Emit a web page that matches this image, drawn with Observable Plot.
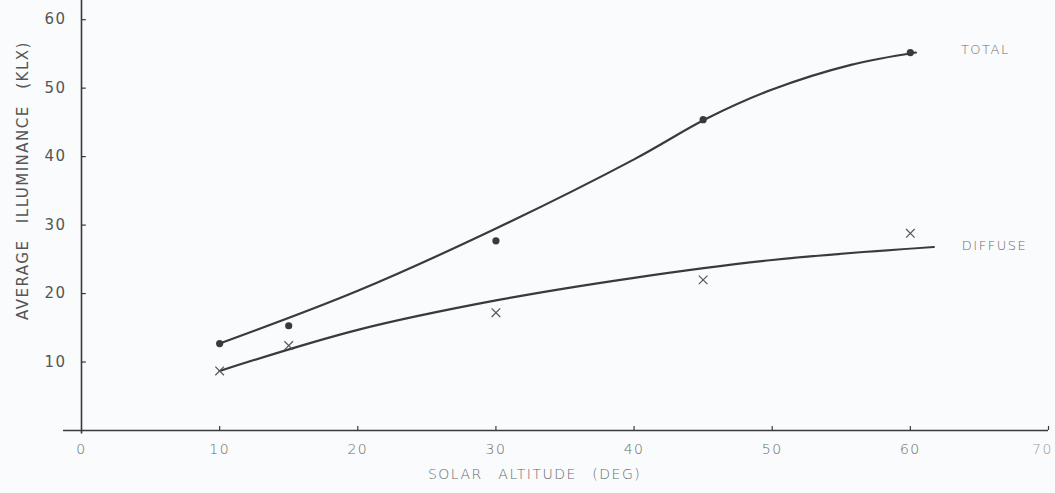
<!DOCTYPE html>
<html>
<head>
<meta charset="utf-8">
<script src="https://cdn.jsdelivr.net/npm/d3@7"></script>
<script src="https://cdn.jsdelivr.net/npm/@observablehq/plot@0.6"></script>
<style>
  html, body { margin: 0; padding: 0; background: #f9fbfc; }
  #chart svg { display: block; font-family: "DejaVu Sans", sans-serif; }
</style>
</head>
<body>
<div id="chart"></div>
<script>
// Measured points
const altitudes = [10, 15, 30, 45, 60];
const totalValues = [12.7, 15.3, 27.7, 45.4, 55.2];
const diffuseValues = [8.7, 12.4, 17.2, 22.0, 28.8];

// Hand-drawn fitted curves
const totalCurveX = [10, 20, 30, 40, 45.3, 50, 55.7, 60.4];
const totalCurveY = [12.7, 20.4, 29.5, 39.6, 45.6, 49.8, 53.4, 55.2];
const diffuseCurveX = [10, 20, 30, 40, 50, 61.7];
const diffuseCurveY = [8.7, 14.7, 19.0, 22.3, 24.9, 26.8];

const xTicks = [0, 10, 20, 30, 40, 50, 60, 70];
const yTicks = [10, 20, 30, 40, 50, 60];
const seriesLabels = ["TOTAL", "DIFFUSE"];

const ink = "#3a3a3a";
const textInk = "#6a6a6a";

const totalPts = altitudes.map((x, i) => ({x, y: totalValues[i]}));
const diffusePts = altitudes.map((x, i) => ({x, y: diffuseValues[i]}));
const totalCurve = totalCurveX.map((x, i) => ({x, y: totalCurveY[i]}));
const diffuseCurve = diffuseCurveX.map((x, i) => ({x, y: diffuseCurveY[i]}));
const totalEnd = totalCurve[totalCurve.length - 1];
const diffuseEnd = diffuseCurve[diffuseCurve.length - 1];

const chart = Plot.plot({
  width: 1055,
  height: 493,
  marginLeft: 81,
  marginRight: 7,
  marginTop: 0,
  marginBottom: 63,
  style: {background: "#f9fbfc", color: textInk, fontSize: "14px"},
  x: {domain: [0, 70], axis: null},
  y: {domain: [0, 62.8], axis: null},
  marks: [
    // axis lines
    Plot.ruleY([0], {x1: -1.3, x2: 70, stroke: ink, strokeWidth: 1.6}),
    Plot.ruleX([0], {y1: -0.5, y2: 62.8, stroke: ink, strokeWidth: 1.6}),
    // inward tick marks
    Plot.ruleX(xTicks.slice(1), {x: d => d, y1: 0, y2: 0.6, stroke: ink, strokeWidth: 1.2}),
    Plot.ruleY(yTicks, {y: d => d, x1: 0, x2: 0.35, stroke: ink, strokeWidth: 1.2}),
    // tick labels
    Plot.text(xTicks.slice(0, -1), {x: d => d, y: 0, text: d => String(d), dy: 19, fill: textInk, fontSize: 14, fontWeight: 300}),
    Plot.text(xTicks.slice(-1), {x: d => d, y: 0, text: d => String(d), dy: 19, dx: -6, fill: "#999", fontSize: 14, fontWeight: 300}),
    Plot.text(yTicks, {x: 0, y: d => d, text: d => String(d), dx: -26, fill: "#555", fontSize: 15}),
    // fitted curves
    Plot.line(totalCurve, {x: "x", y: "y", curve: "catmull-rom", stroke: ink, strokeWidth: 2.2}),
    Plot.line(diffuseCurve, {x: "x", y: "y", curve: "catmull-rom", stroke: ink, strokeWidth: 2.2}),
    // measured points
    Plot.dot(totalPts, {x: "x", y: "y", r: 3.6, fill: ink, stroke: "none"}),
    Plot.dot(diffusePts, {x: "x", y: "y", symbol: "times", r: 4, stroke: "#555", strokeWidth: 1.2}),
    // series labels
    Plot.text([seriesLabels[0]], {x: totalEnd.x, y: totalEnd.y, text: d => d, dx: 45, dy: -3, textAnchor: "start", fill: textInk, fontSize: 13, fontWeight: 300}),
    Plot.text([seriesLabels[1]], {x: diffuseEnd.x, y: diffuseEnd.y, text: d => d, dx: 28, dy: -1, textAnchor: "start", fill: textInk, fontSize: 13, fontWeight: 300}),
    // axis titles
    Plot.text(["SOLAR\u2003ALTITUDE\u2003(DEG)"], {text: d => d, x: 32.8, y: 0, dy: 44, fill: textInk, fontSize: 14, fontWeight: 300}),
    Plot.text(["AVERAGE\u2003ILLUMINANCE\u2003(KLX)"], {text: d => d, x: 0, y: 36.5, dx: -58, rotate: -90, fill: "#555", fontSize: 15})
  ]
});
chart.querySelectorAll("text").forEach(t => t.style.letterSpacing = "1.5px");
document.getElementById("chart").appendChild(chart);
</script>
</body>
</html>
